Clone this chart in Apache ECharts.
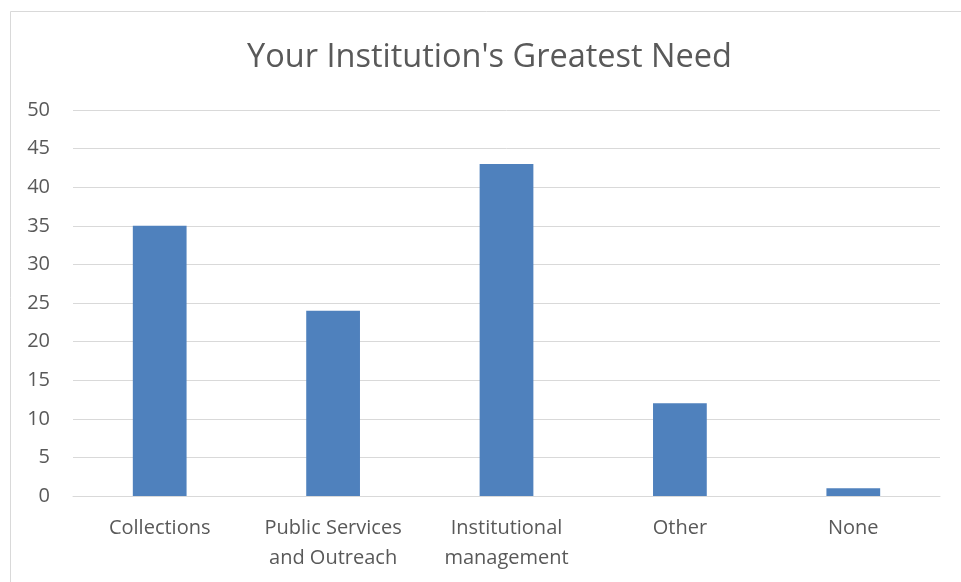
<!DOCTYPE html>
<html>
<head>
<meta charset="utf-8">
<style>
  html, body { margin: 0; padding: 0; background: #ffffff; }
  #chart { width: 961px; height: 582px; }
</style>
<script src="https://cdn.jsdelivr.net/npm/echarts@6/dist/echarts.min.js"></script>
</head>
<body>
<div id="chart"></div>
<script>
// Survey responses: the area each institution named as its greatest need
const categories = ['Collections', 'Public Services\nand Outreach', 'Institutional\nmanagement', 'Other', 'None'];
const responses = [35, 24, 43, 12, 1];
const yTicks = { min: 0, max: 50, interval: 5 };

const chart = echarts.init(document.getElementById('chart'), null, { renderer: 'canvas' });

chart.setOption({
  backgroundColor: '#ffffff',
  animation: false,
  title: {
    text: "Your Institution's Greatest Need",
    // centred over the framed chart area
    left: 484.5,
    textAlign: 'center',
    top: 36,
    textStyle: {
      fontFamily: 'Open Sans',
      fontSize: 32.5,
      fontWeight: 'normal',
      color: '#595959'
    }
  },
  graphic: [{
    type: 'rect',
    shape: { x: 10.5, y: 11.5, width: 1000, height: 700 },
    style: { fill: 'none', stroke: '#d9d9d9', lineWidth: 1 },
    silent: true
  }],
  grid: { left: 73, right: 21, top: 110, bottom: 86 },
  xAxis: {
    type: 'category',
    data: categories,
    axisLine: { show: true, lineStyle: { color: '#d9d9d9', width: 1 } },
    axisTick: { show: false },
    axisLabel: {
      interval: 0,
      margin: 17,
      fontFamily: 'Open Sans',
      fontSize: 20,
      lineHeight: 30,
      color: '#595959',
      verticalAlign: 'top'
    }
  },
  yAxis: {
    type: 'value',
    min: yTicks.min,
    max: yTicks.max,
    interval: yTicks.interval,
    axisLine: { show: false },
    axisTick: { show: false },
    splitLine: { lineStyle: { color: '#d9d9d9', width: 1 } },
    axisLabel: {
      margin: 23,
      fontFamily: 'Open Sans',
      fontSize: 20,
      color: '#595959'
    }
  },
  series: [{
    type: 'bar',
    data: responses,
    barWidth: '31%',
    itemStyle: { color: '#4f81bd' }
  }]
});
</script>
</body>
</html>
